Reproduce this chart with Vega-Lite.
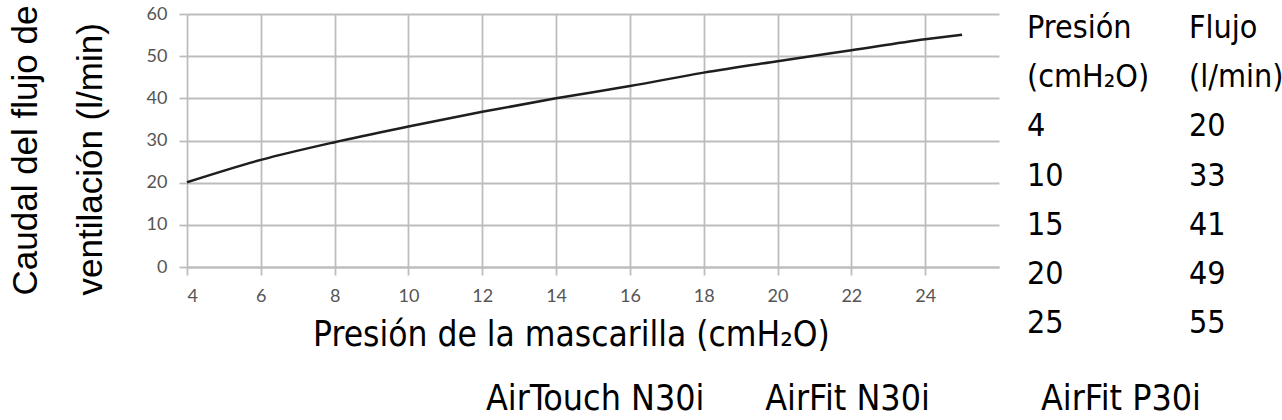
{
  "$schema": "https://vega.github.io/schema/vega-lite/v6.json",
  "background": "white",
  "padding": {"left": 7, "top": 5, "right": 0, "bottom": 0},
  "spacing": 28,
  "config": {
    "view": {"stroke": null},
    "axis": {
      "gridColor": "#bdbdbd",
      "gridWidth": 1.8,
      "tickColor": "#bdbdbd",
      "tickWidth": 1.8,
      "tickSize": 8,
      "domainColor": "#bdbdbd",
      "domainWidth": 1.8,
      "labelColor": "#555555",
      "labelFont": "Lato",
      "labelFontSize": 18,
      "titleColor": "black",
      "titleFontWeight": "normal"
    }
  },
  "hconcat": [
    {
      "width": 812,
      "height": 253,
      "title": {
        "text": "AirTouch N30i\u00a0\u00a0\u00a0\u00a0\u00a0\u00a0AirFit N30i",
        "orient": "bottom",
        "anchor": "start",
        "frame": "group",
        "dx": 299,
        "offset": 30,
        "font": "Liberation Sans Narrow, DejaVu Sans Condensed, sans-serif",
        "fontSize": 35.5,
        "fontWeight": "normal",
        "color": "black"
      },
      "data": {
        "values": [
          {"presion": 4, "flujo": 20.1},
          {"presion": 6, "flujo": 25.4},
          {"presion": 8, "flujo": 29.6},
          {"presion": 10, "flujo": 33.3},
          {"presion": 12, "flujo": 36.8},
          {"presion": 14, "flujo": 40},
          {"presion": 16, "flujo": 42.9},
          {"presion": 18, "flujo": 46.1},
          {"presion": 20, "flujo": 48.8},
          {"presion": 22, "flujo": 51.4},
          {"presion": 24, "flujo": 54},
          {"presion": 25, "flujo": 55.1}
        ]
      },
      "mark": {"type": "line", "color": "#1e1e1e", "strokeWidth": 2.5, "interpolate": "monotone"},
      "encoding": {
        "x": {
          "field": "presion",
          "type": "quantitative",
          "scale": {"domain": [4, 26], "nice": false, "zero": false},
          "axis": {
            "values": [4, 6, 8, 10, 12, 14, 16, 18, 20, 22, 24],
            "labelPadding": 12,
            "title": "Presión de la mascarilla (cmH₂O)",
            "titleFont": "Liberation Sans Narrow, DejaVu Sans Condensed, sans-serif",
            "titleFontSize": 35,
            "titleX": 384,
            "titleY": 78,
            "titleBaseline": "alphabetic"
          }
        },
        "y": {
          "field": "flujo",
          "type": "quantitative",
          "scale": {"domain": [0, 60], "nice": false},
          "axis": {
            "values": [0, 10, 20, 30, 40, 50, 60],
            "domain": false,
            "labelPadding": 12,
            "title": ["Caudal del flujo de", "ventilación (l/min)"],
            "titleFont": "Liberation Sans, Arial, sans-serif",
            "titleFontSize": 35,
            "titleAngle": 270,
            "titleAlign": "left",
            "titleBaseline": "alphabetic",
            "titleLineHeight": 65,
            "titleX": -151,
            "titleY": 281
          }
        }
      }
    },
    {
      "width": 162,
      "height": 323,
      "title": {
        "text": "AirFit P30i",
        "orient": "bottom",
        "anchor": "middle",
        "dx": 13,
        "offset": 43,
        "font": "Liberation Sans Narrow, DejaVu Sans Condensed, sans-serif",
        "fontSize": 35.5,
        "fontWeight": "normal",
        "color": "black"
      },
      "data": {
        "values": [
          {"fila": 1, "Presión": "Presión", "Flujo": "Flujo"},
          {"fila": 2, "Presión": "(cmH₂O)", "Flujo": "(l/min)"},
          {"fila": 3, "Presión": "4", "Flujo": "20"},
          {"fila": 4, "Presión": "10", "Flujo": "33"},
          {"fila": 5, "Presión": "15", "Flujo": "41"},
          {"fila": 6, "Presión": "20", "Flujo": "49"},
          {"fila": 7, "Presión": "25", "Flujo": "55"}
        ]
      },
      "transform": [{"fold": ["Presión", "Flujo"], "as": ["columna", "texto"]}],
      "mark": {
        "type": "text",
        "align": "left",
        "baseline": "middle",
        "font": "Liberation Sans Narrow, DejaVu Sans Condensed, sans-serif",
        "fontSize": 32,
        "color": "black"
      },
      "encoding": {
        "x": {
          "field": "columna",
          "type": "nominal",
          "scale": {"type": "point", "domain": ["Presión", "Flujo"], "padding": 0},
          "axis": null
        },
        "y": {
          "field": "fila",
          "type": "ordinal",
          "scale": {"type": "point", "padding": 0.285},
          "axis": null
        },
        "text": {"field": "texto"}
      }
    }
  ]
}
